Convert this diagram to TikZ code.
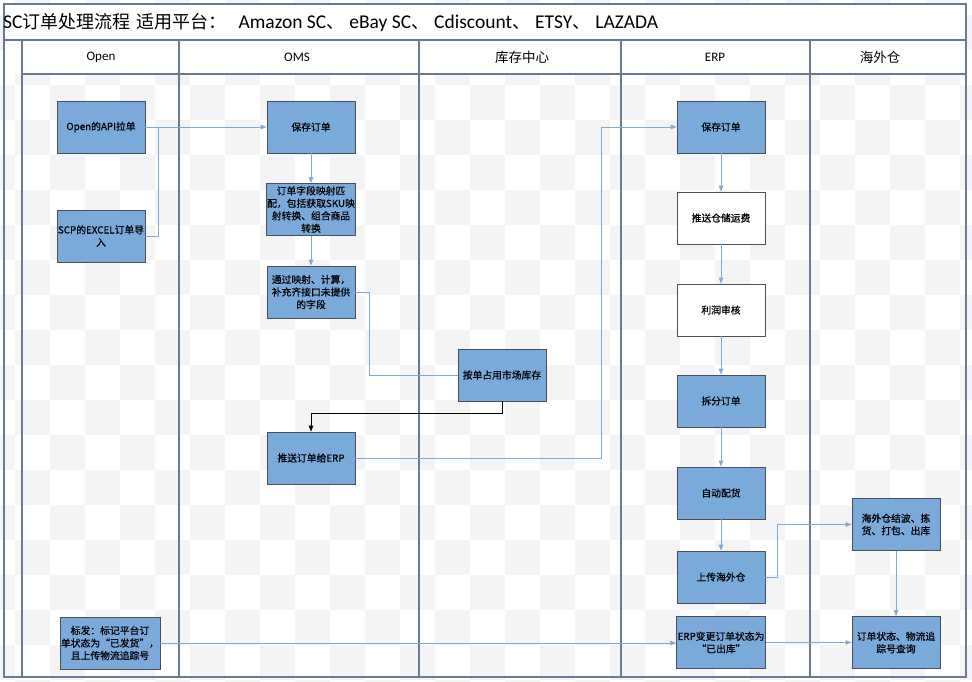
\documentclass[tikz,border=0pt]{standalone}
\usepackage{fontspec}
\setmainfont{Noto Sans CJK SC}
\newfontfamily\latinf{Carlito}
\newfontfamily\boxf[FakeBold=0.6]{Noto Sans CJK SC}
\usetikzlibrary{arrows.meta}
\definecolor{boxF}{RGB}{122,170,218}
\definecolor{boxD}{RGB}{72,80,92}
\definecolor{laneC}{RGB}{104,122,150}
\definecolor{flowC}{RGB}{128,170,214}
\definecolor{chkC}{RGB}{244,244,244}
\newcommand{\tl}[1]{{\latinf\fontsize{19.5}{20}\selectfont #1}}
\begin{document}
\begin{tikzpicture}[x=1pt,y=-1pt,
  lane/.style={draw=laneC, line width=1.1pt},
  frame/.style={draw=laneC, line width=1.6pt},
  box/.style={draw=boxD, fill=boxF, line width=0.7pt, minimum width=88pt, minimum height=52pt,
    inner sep=1pt, align=center, font=\boxf\fontsize{9.8}{12.5}\selectfont},
  wbox/.style={box, fill=white},
  conn/.style={draw=flowC, line width=0.9pt},
  flow/.style={conn, -{Triangle[length=6pt,width=4.5pt]}},
  bflow/.style={draw=black, line width=1pt, -{Triangle[length=6pt,width=4.5pt]}},
  hdr/.style={font=\fontsize{13.5}{15}\selectfont, inner sep=0pt},
  hdrl/.style={font=\latinf\fontsize{13}{15}\selectfont, inner sep=0pt}]
\useasboundingbox (0,0) rectangle (972,682);
\fill[white] (0,0) rectangle (972,682);
% checkerboard background
\begin{scope}
\clip (0,0) rectangle (972,682);
\foreach \i in {-1,...,27}{\foreach \j in {-1,...,19}{
  \ifodd\numexpr\i+\j\relax \fill[chkC] ({15+35*\i},{15+35*\j}) rectangle ++(35,35); \fi}}
\end{scope}
% title and header rows
\fill[white] (4,4) rectangle (966,74);
\draw[frame] (4,4) rectangle (966,677);
\draw[lane] (4,40) -- (966,40);
\draw[lane] (22,74) -- (966,74);
\foreach \x in {22,179,419,621,810}{\draw[lane] (\x,40) -- (\x,677);}
% title
\node[anchor=west, inner sep=0pt, font=\fontsize{18}{20}\selectfont] (title) at (3,22)
  {\tl{SC}订单处理流程\hspace{6pt}适用平台：\hspace{12pt}\tl{Amazon SC}、\hspace{5pt}\tl{eBay SC}、\hspace{5pt}\tl{Cdiscount}、\hspace{5pt}\tl{ETSY}、\hspace{5pt}\tl{LAZADA}};
% headers
\node[hdrl] (hOpen) at (101,57) {Open};
\node[hdrl] (hOMS) at (297,57) {OMS};
\node[hdr] (hStock) at (522,57) {库存中心};
\node[hdrl] (hERP) at (715,57) {ERP};
\node[hdr] (hWH) at (880,57) {海外仓};
% boxes
\node[box] (api) at (101,127) {Open的API拉单};
\node[box] (scp) at (101,236) {SCP的EXCEL订单导\\入};
\node[box] (osave) at (311,127) {保存订单};
\node[box] (map) at (311,209.5) {订单字段映射匹\\配，包括获取SKU映\\射转换、组合商品\\转换};
\node[box] (calc) at (311,292) {通过映射、计算，\\补充齐接口未提供\\的字段};
\node[box] (stock) at (502,375) {按单占用市场库存};
\node[box] (push) at (311,458) {推送订单给ERP};
\node[box] (esave) at (721,127) {保存订单};
\node[wbox] (fee) at (721,218) {推送仓储运费};
\node[wbox] (profit) at (721,310) {利润审核};
\node[box] (split) at (721,401) {拆分订单};
\node[box] (alloc) at (721,493) {自动配货};
\node[box] (upload) at (721,577) {上传海外仓};
\node[box] (status) at (721,642.5) {ERP变更订单状态为\\“已出库”};
\node[box] (wave) at (896,524.5) {海外仓结波、拣\\货、打包、出库};
\node[box] (query) at (896,642.5) {订单状态、物流追\\踪号查询};
\node[box] (mark) at (110,643) {标发：标记平台订\\单状态为“已发货”，\\且上传物流追踪号};
% connectors
\coordinate (j1) at (158,127);
\coordinate (c1) at (369,375);
\coordinate (c2) at (601,127);
\coordinate (c3) at (777.5,524.5);
\draw[flow] (api.east) -- (osave.west);
\draw[conn] (scp.east) -| (j1);
\draw[flow] (osave) -- (map);
\draw[flow] (map) -- (calc);
\draw[conn] (calc.east) -| (c1) -- (stock.west);
\draw[bflow] (stock.south) -- ++(0,12.5) -| (push.north);
\draw[flow] (push.east) -| (c2) -- (esave.west);
\draw[flow] (esave) -- (fee);
\draw[flow] (fee) -- (profit);
\draw[flow] (profit) -- (split);
\draw[flow] (split) -- (alloc);
\draw[flow] (alloc) -- (upload);
\draw[flow] (upload.east) -| (c3) -- (wave.west);
\draw[flow] (wave) -- (query);
\draw[flow] (status) -- (query);
\draw[flow] (mark.east) -- (mark.east -| status.west);
\end{tikzpicture}
\end{document}
